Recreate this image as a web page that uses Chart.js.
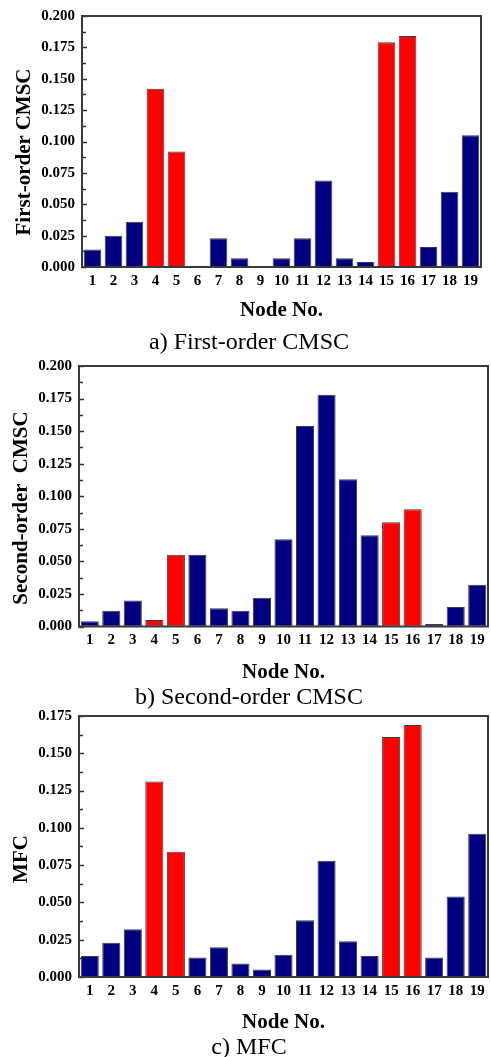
<!DOCTYPE html>
<html>
<head>
<meta charset="utf-8">
<script src="https://cdn.jsdelivr.net/npm/chart.js@4/dist/chart.umd.min.js"></script>
<style>
  html, body { margin: 0; padding: 0; background: #fff; }
  body { width: 491px; height: 1057px; position: relative; overflow: hidden; }
  canvas { position: absolute; left: 0; }
  .ytitle { position: absolute; width: 260px; height: 24px; line-height: 24px; text-align: center;
            font: bold 21px "Liberation Serif", "Times New Roman", serif; color: #000;
            transform: rotate(-90deg); transform-origin: 50% 50%; white-space: pre; }
  .caption { position: absolute; left: 0; width: 498px; height: 28px; line-height: 28px; text-align: center;
             font: 24px "Liberation Serif", "Times New Roman", serif; color: #000; white-space: pre; }
</style>
</head>
<body>
<canvas id="cA" width="491" height="325" style="top:0px"></canvas>
<canvas id="cB" width="491" height="340" style="top:350px"></canvas>
<canvas id="cC" width="491" height="335" style="top:700px"></canvas>

<div class="ytitle" style="left:-107px; top:140px;">First-order CMSC</div>
<div class="ytitle" style="left:-110px; top:496px;">Second-order  CMSC</div>
<div class="ytitle" style="left:-110px; top:847px;">MFC</div>

<div class="caption" style="top:328px;">a) First-order CMSC</div>
<div class="caption" style="top:683px;">b) Second-order CMSC</div>
<div class="caption" style="top:1033px;">c) MFC</div>

<script>
// ---- data ----
const nodes = ['1','2','3','4','5','6','7','8','9','10','11','12','13','14','15','16','17','18','19'];
const firstOrderCMSC = [0.014,0.025,0.036,0.142,0.092,0.001,0.023,0.007,0.000,0.007,0.023,0.069,0.007,0.004,0.179,0.184,0.016,0.060,0.105];
const secondOrderCMSC = [0.004,0.012,0.020,0.005,0.055,0.055,0.014,0.012,0.022,0.067,0.154,0.178,0.113,0.070,0.080,0.090,0.002,0.015,0.032];
const mfcValues = [0.014,0.023,0.032,0.131,0.084,0.013,0.020,0.009,0.005,0.015,0.038,0.078,0.024,0.014,0.161,0.169,0.013,0.054,0.096];
const highlightNodes = ['4','5','15','16'];
const yMaxA = 0.200, yMaxB = 0.200, yMaxC = 0.175;
const yStep = 0.025;

const NAVY = '#000080', RED = '#ff0000';
const colorsFor = () => nodes.map(n => highlightNodes.includes(n) ? RED : NAVY);

const framePlugin = {
  id: 'frame',
  afterDraw(chart) {
    const {ctx, chartArea: a} = chart;
    const ys = chart.scales.y;
    ctx.save();
    ctx.strokeStyle = '#333';
    ctx.lineWidth = 1.5;
    // inner ticks on left axis (major + minor)
    const n = Math.round(ys.max / (yStep / 2));
    for (let i = 0; i <= n; i++) {
      const v = i * yStep / 2;
      const py = Math.round(ys.getPixelForValue(v)) + 0.5;
      const len = (i % 2 === 0) ? 5 : 4;
      ctx.beginPath();
      ctx.moveTo(a.left, py);
      ctx.lineTo(a.left + len, py);
      ctx.stroke();
    }
    ctx.lineWidth = 2;
    ctx.strokeStyle = '#3a3a3a';
    ctx.strokeRect(a.left, a.top, a.right - a.left, a.bottom - a.top);
    ctx.restore();
  }
};

function makeChart(id, values, yMax, geo) {
  const canvas = document.getElementById(id);
  return new Chart(canvas, {
    type: 'bar',
    data: {
      labels: nodes,
      datasets: [{
        data: values,
        backgroundColor: colorsFor(),
        borderColor: '#3c3c3c',
        borderWidth: 1,
        borderSkipped: false,
        barPercentage: 0.84,
        categoryPercentage: 1.0
      }]
    },
    options: {
      responsive: false,
      animation: false,
      events: [],
      layout: { padding: { top: geo.top, right: geo.right, left: 0, bottom: 0 } },
      plugins: { legend: { display: false }, tooltip: { enabled: false } },
      scales: {
        x: {
          grid: { display: false, drawTicks: false },
          border: { display: false },
          ticks: {
            autoSkip: false, maxRotation: 0, minRotation: 0, padding: 5,
            color: '#000',
            font: { family: '"Liberation Serif", "Times New Roman", serif', weight: 'bold', size: 15 }
          },
          title: {
            display: true, text: 'Node No.', color: '#000',
            font: { family: '"Liberation Serif", "Times New Roman", serif', weight: 'bold', size: 21 },
            padding: { top: 0, bottom: geo.titlePad }
          },
          afterFit(s) { s.height = geo.xHeight; }
        },
        y: {
          min: 0, max: yMax,
          grid: { display: false, drawTicks: false },
          border: { display: false },
          ticks: {
            stepSize: yStep, padding: 7, color: '#000',
            callback: v => Number(v).toFixed(3),
            font: { family: '"Liberation Serif", "Times New Roman", serif', weight: 'bold', size: 15 }
          },
          afterFit(s) { s.width = geo.yWidth; }
        }
      }
    },
    plugins: [framePlugin]
  });
}

// chart a: plot area left 82, right 481, top 10, bottom 267 (canvas 0..325)
makeChart('cA', firstOrderCMSC, yMaxA, { top: 10, right: 10, yWidth: 82, xHeight: 58, titlePad: 2 });
// chart b: plot area left 79, right 488, top 363.5, bottom 626.5 (canvas 350..690)
makeChart('cB', secondOrderCMSC, yMaxB, { top: 13.5, right: 3, yWidth: 79, xHeight: 63.5, titlePad: 5 });
// chart c: plot area left 79, right 488, top 715, bottom 977 (canvas 700..1035)
makeChart('cC', mfcValues, yMaxC, { top: 15, right: 3, yWidth: 79, xHeight: 58, titlePad: 0 });
</script>
</body>
</html>
